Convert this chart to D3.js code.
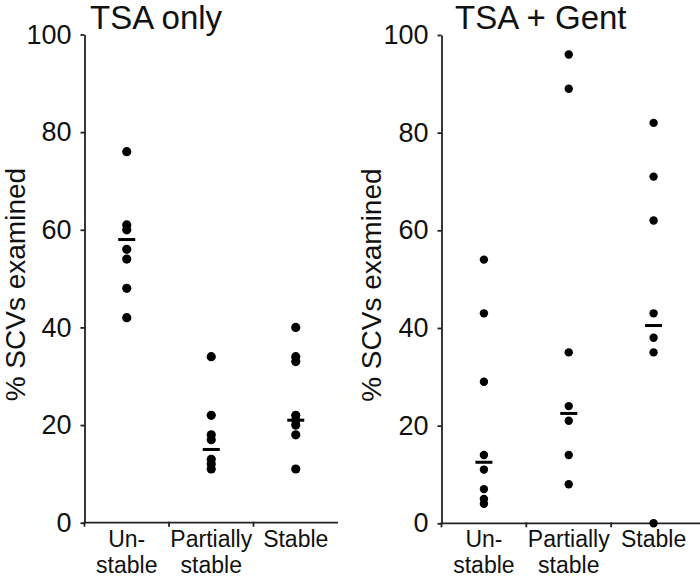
<!DOCTYPE html>
<html>
<head>
<meta charset="utf-8">
<script src="https://cdn.jsdelivr.net/npm/d3@7"></script>
<style>
  html, body { margin: 0; padding: 0; background: #fff; }
  svg { display: block; font-family: "Liberation Sans", Arial, sans-serif; }
</style>
</head>
<body>
<svg id="chart" width="700" height="579"></svg>
<script>
// ---- data ----
const categories = ["Unstable", "Partially stable", "Stable"];
const categoryLines = [["Un-", "stable"], ["Partially", "stable"], ["Stable"]];
const yTicks = [0, 20, 40, 60, 80, 100];
const panelTitles = ["TSA only", "TSA + Gent"];
const yLabel = "% SCVs examined";

// TSA only
const tsaUnstable = [76, 61, 60, 56, 54, 48, 42];
const tsaPartial = [34, 22, 18, 17, 13, 12, 11];
const tsaStable = [40, 34, 33, 22, 21, 20, 18, 11];
const tsaBars = [58, 15, 21];

// TSA + Gent
const gentUnstable = [54, 43, 29, 14, 11, 7, 5, 4];
const gentPartial = [96, 89, 35, 24, 21, 14, 8];
const gentStable = [82, 71, 62, 43, 38, 35, 0];
const gentBars = [12.5, 22.5, 40.5];

const panels = [
  { title: panelTitles[0], series: [tsaUnstable, tsaPartial, tsaStable], bars: tsaBars,
    x0: 84.5, x1: 338, xEnd: 338, yTop: 34.5, yBot: 522.7, r: 4.6, titleX: 90, labelX: 25 },
  { title: panelTitles[1], series: [gentUnstable, gentPartial, gentStable], bars: gentBars,
    x0: 441.5, x1: 696, xEnd: 700, yTop: 35, yBot: 523.3, r: 4.2, titleX: 455, labelX: 381 }
];

const svg = d3.select("#chart");
const axisColor = "#222";

panels.forEach(p => {
  const g = svg.append("g");
  const x = d3.scaleBand().domain(categories).range([p.x0, p.x1]);
  const y = d3.scaleLinear().domain([0, 100]).range([p.yBot, p.yTop]);

  // y axis
  const yAx = g.append("g").attr("transform", `translate(${p.x0},0)`)
    .call(d3.axisLeft(y).tickValues(yTicks).tickSize(4).tickSizeOuter(0).tickPadding(9));
  yAx.selectAll("path, line").attr("stroke", axisColor).attr("stroke-width", 1.8);
  yAx.selectAll("text").attr("font-size", 27).attr("fill", "#111")
    .attr("font-family", '"Liberation Sans", Arial, sans-serif');

  // x axis (ticks at band boundaries)
  const xAx = g.append("g").attr("transform", `translate(0,${p.yBot})`);
  xAx.append("line").attr("x1", p.x0).attr("x2", p.xEnd).attr("y1", 0).attr("y2", 0)
    .attr("stroke", axisColor).attr("stroke-width", 1.8);
  const bounds = categories.map(c => x(c));
  xAx.selectAll("line.tk").data(bounds).join("line").attr("class", "tk")
    .attr("x1", d => d).attr("x2", d => d).attr("y1", -1).attr("y2", 4)
    .attr("stroke", axisColor).attr("stroke-width", 1.8);

  // category labels
  categories.forEach((c, i) => {
    const cx = x(c) + x.bandwidth() / 2;
    const t = g.append("text")
      .attr("x", cx)
      .attr("y", 547)
      .attr("text-anchor", "middle")
      .attr("font-size", 23)
      .attr("fill", "#111");
    categoryLines[i].forEach((line, j) => {
      t.append("tspan").attr("x", cx)
        .attr("dy", j === 0 ? 0 : 26).text(line);
    });
  });

  // dots
  p.series.forEach((vals, i) => {
    const cx = x(categories[i]) + x.bandwidth() / 2;
    g.selectAll(null).data(vals).join("circle")
      .attr("cx", cx).attr("cy", d => y(d)).attr("r", p.r).attr("fill", "#000");
    // median bar
    g.append("rect")
      .attr("x", cx - 8.5).attr("y", y(p.bars[i]) - 1.5)
      .attr("width", 17).attr("height", 3).attr("fill", "#000");
  });

  // title
  g.append("text").attr("x", p.titleX).attr("y", 29)
    .attr("font-size", 33).attr("fill", "#111").text(p.title);

  // y label
  g.append("text")
    .attr("transform", `translate(${p.labelX},${(p.yTop + p.yBot) / 2 + 6}) rotate(-90)`)
    .attr("text-anchor", "middle")
    .attr("font-size", 28).attr("fill", "#111").text(yLabel);
});
</script>
</body>
</html>
